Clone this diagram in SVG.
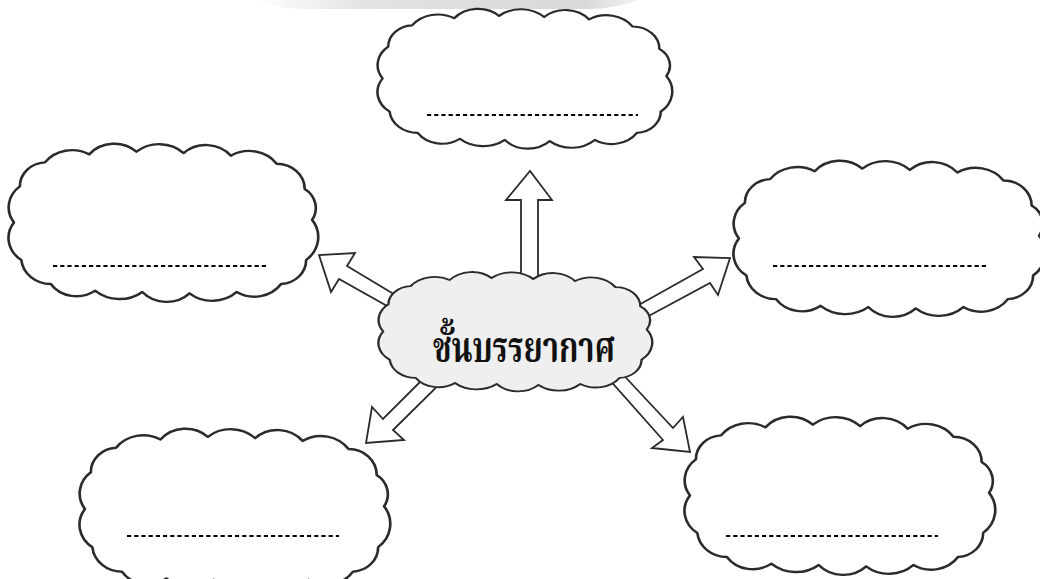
<svg xmlns="http://www.w3.org/2000/svg" xmlns:xlink="http://www.w3.org/1999/xlink" width="1040" height="579" viewBox="0 0 1040 579">
<style>
.cloud{fill:#fff;stroke:#2b2b2b;stroke-width:1.8;vector-effect:non-scaling-stroke;stroke-linejoin:round}
.center{fill:#efefef}
.dots{stroke:#000;stroke-width:2.2;stroke-dasharray:4.2 3}
.arrow{fill:#fff;stroke:#2b2b2b;stroke-width:1.8;stroke-linejoin:miter}
.label{font-family:"Liberation Serif","Noto Serif Thai","Noto Sans Thai","DejaVu Serif",serif;font-weight:bold;font-size:42px;fill:#111;text-anchor:middle}
</style>
<defs>
<linearGradient id="strip" x1="0" x2="1" y1="0" y2="0">
<stop offset="0" stop-color="#fff"/>
<stop offset="0.3" stop-color="#e2e2e2"/>
<stop offset="0.85" stop-color="#d8d8d8"/>
<stop offset="1" stop-color="#f4f4f4"/>
</linearGradient>
<path id="cl" d="M101,-2 A22,22 0 0,1 97,28 A18,18 0 0,1 80,46 A22,22 0 0,1 50,52 A24,24 0 0,1 18,53 A22,22 0 0,1 -14,52 A25,25 0 0,1 -46,51 A21,21 0 0,1 -76,46 A20,20 0 0,1 -96,28 A20,20 0 0,1 -101,0 A20,20 0 0,1 -97,-27 A18,18 0 0,1 -80,-45 A23,23 0 0,1 -50,-51 A22,22 0 0,1 -18,-53 A24,24 0 0,1 14,-52 A22,22 0 0,1 46,-50 A23,23 0 0,1 77,-44 A19,19 0 0,1 96,-25 A17,17 0 0,1 101,-2 Z"/>
</defs>
<path d="M255,0 L640,0 Q612,9 590,9 L300,9 Q272,8 255,0 Z" fill="url(#strip)"/>
<g id="connectors">
<polygon class="arrow" points="521,290 521,200 506,200 530,171 552,200 538,200 538,290"/>
<polygon class="arrow" points="412,305 347,266 355,253 319,255 331,292 339,279 405,316"/>
<polygon class="arrow" points="628,311 703,269 694,257 730,258 718,295 710,283 632,325"/>
<polygon class="arrow" points="436,366 383,419 372,407 366,443 404,440 393,430 458,366"/>
<polygon class="arrow" points="615,366 673,428 683,417 690,452 652,448 663,440 600,369"/>
</g>
<g id="node-top">
<use class="cloud" xlink:href="#cl" href="#cl" transform="translate(524.5,78.5) scale(1.405,1.181)"/>
<line class="dots" x1="427" y1="115" x2="638" y2="115"/>
</g>
<g id="node-left">
<use class="cloud" xlink:href="#cl" href="#cl" transform="translate(163,222.5) scale(1.476,1.336)"/>
<line class="dots" x1="53" y1="266" x2="269" y2="266"/>
</g>
<g id="node-right">
<use class="cloud" xlink:href="#cl" href="#cl" transform="translate(889,238.5) scale(1.486,1.319)"/>
<line class="dots" x1="773" y1="266" x2="989" y2="266"/>
</g>
<g id="node-bottom-left">
<use class="cloud" xlink:href="#cl" href="#cl" transform="translate(234.5,509) scale(1.481,1.362)"/>
<line class="dots" x1="127" y1="536" x2="339" y2="536"/>
</g>
<g id="node-bottom-right">
<use class="cloud" xlink:href="#cl" href="#cl" transform="translate(839.5,495.5) scale(1.481,1.336)"/>
<line class="dots" x1="726" y1="536" x2="938" y2="536"/>
</g>
<g id="node-center">
<use class="cloud center" xlink:href="#cl" href="#cl" transform="translate(515,331.5) scale(1.305,1.009)"/>
<text class="label" x="524" y="362" textLength="182" lengthAdjust="spacingAndGlyphs">ชั้นบรรยากาศ</text>
</g>
</svg>
